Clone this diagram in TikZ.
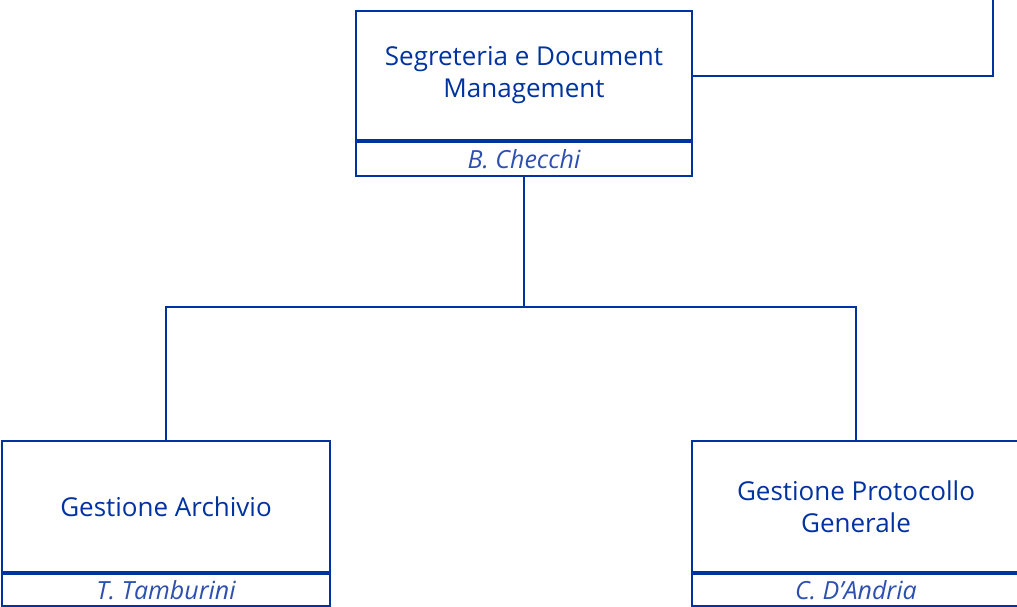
\documentclass[tikz,border=0pt]{standalone}
\usepackage{fontspec}
\setmainfont{Open Sans}
\usetikzlibrary{positioning}
\definecolor{orgblue}{RGB}{0,51,160}
\definecolor{nameblue}{RGB}{45,80,175}
\tikzset{
    unit/.style={draw=orgblue, line width=2pt, fill=white, align=center,
        text=orgblue, font=\fontsize{26}{32}\selectfont, inner sep=0pt},
    holder/.style={draw=orgblue, line width=2pt, fill=white, text=nameblue,
        font=\fontsize{25}{28}\selectfont\itshape, inner sep=0pt},
    divider/.style={orgblue, line width=4pt},
    link/.style={orgblue, line width=2pt}
}

\begin{document}
\begin{tikzpicture}[x=1pt, y=-1pt]
    \useasboundingbox (0,0) rectangle (1017,606);
    % head office
    \node[unit, minimum width=336pt, minimum height=129pt] (seg) at (524,75.5)
        {Segreteria e Document\\Management};
    \node[holder, minimum width=336pt, minimum height=34pt, below=0pt of seg] (segname)
        {B. Checchi};
    \draw[divider] (seg.south west) -- (seg.south east);
    % sub offices
    \node[unit, minimum width=328pt, minimum height=131pt] (arch) at (166,506.5)
        {Gestione Archivio};
    \node[holder, minimum width=328pt, minimum height=32pt, below=0pt of arch] (archname)
        {T. Tamburini};
    \draw[divider] (arch.south west) -- (arch.south east);
    \node[unit, minimum width=328pt, minimum height=131pt] (prot) at (856,506.5)
        {Gestione Protocollo\\Generale};
    \node[holder, minimum width=328pt, minimum height=32pt, below=0pt of prot] (protname)
        {C. D’Andria};
    \draw[divider] (prot.south west) -- (prot.south east);
    % connectors
    \coordinate (up) at (993,-2);
    \coordinate (fork) at (524,307);
    \draw[link] (seg.east) -| (up);
    \draw[link] (segname.south) -- (fork);
    \draw[link] (fork) -| (arch.north);
    \draw[link] (fork) -| (prot.north);
\end{tikzpicture}
\end{document}
